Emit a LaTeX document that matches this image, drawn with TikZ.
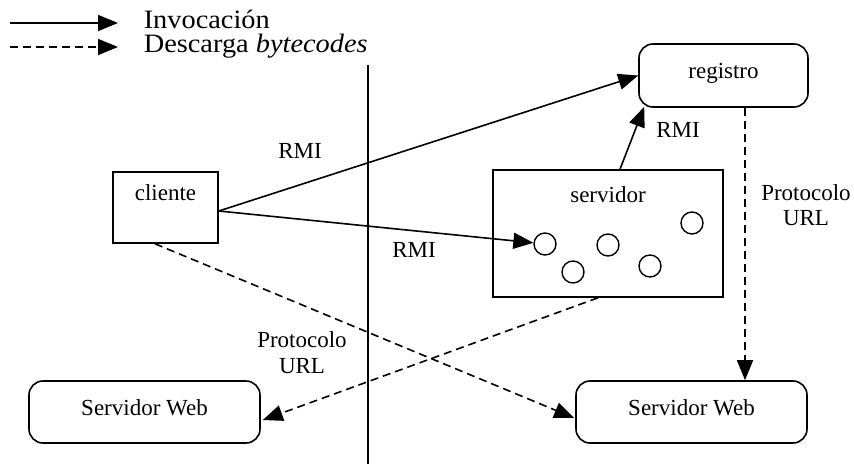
\documentclass[tikz,border=0pt]{standalone}
\usepackage{fontspec}
\setmainfont{Liberation Serif}
\newfontfamily\legendfont[FakeStretch=1.07]{Liberation Serif}
\usetikzlibrary{arrows.meta}
\begin{document}
\begin{tikzpicture}[x=1pt,y=-1pt,
  line width=1.6pt,
  tip/.style={-{Triangle[length=20pt,width=16pt]}},
  sl/.style={tip},
  dl/.style={tip,dash pattern=on 8pt off 5pt},
  txt/.style={font=\fontsize{23}{26}\selectfont,inner sep=0pt,anchor=base},
  ltxt/.style={font=\legendfont\fontsize{26.5}{30}\selectfont,inner sep=0pt,anchor=base west},
  sqbox/.style={draw,line width=1.6pt,inner sep=0pt},
  rbox/.style={draw,line width=1.6pt,inner sep=0pt,rounded corners=14pt},
  obj/.style={draw,circle,line width=1.4pt,minimum size=22pt,inner sep=0pt}]
\useasboundingbox (0,0) rectangle (854,464);

% legend
\coordinate (la1) at (10,23);
\coordinate (lb1) at (118,23);
\coordinate (la2) at (10,47);
\coordinate (lb2) at (118,47);
\draw[sl] (la1) -- (lb1);
\draw[dl] (la2) -- (lb2);
\node[ltxt] (linv) at (143,28) {Invocación};
\node[ltxt] (ldesc) at (143,52) {Descarga \textit{bytecodes}};

% separator line
\coordinate (sepTop) at (368,65);
\coordinate (sepBot) at (368,464);
\draw (sepTop) -- (sepBot);

% boxes
\node[sqbox,minimum width=105pt,minimum height=71pt] (cliente) at (165.5,207.5) {};
\node[txt] (tcliente) at (165.5,200) {cliente};

\node[rbox,minimum width=169pt,minimum height=63pt] (registro) at (723.5,75.5) {};
\node[txt] (tregistro) at (723.5,78) {registro};

\node[sqbox,minimum width=230pt,minimum height=127pt] (servidor) at (608,233.5) {};
\node[txt] (tservidor) at (608,202) {servidor};

\node[rbox,minimum width=231pt,minimum height=62pt] (swl) at (144.5,412) {};
\node[txt] (tswl) at (144.5,415) {Servidor Web};

\node[rbox,minimum width=231pt,minimum height=62pt] (swr) at (691.5,412) {};
\node[txt] (tswr) at (691.5,415) {Servidor Web};

% remote objects inside the server
\node[obj] (o1) at (545,244) {};
\node[obj] (o2) at (608,245) {};
\node[obj] (o3) at (692,223) {};
\node[obj] (o4) at (573,272) {};
\node[obj] (o5) at (650,266) {};

% invocations
\draw[sl] ([yshift=-3.5pt]cliente.east) -- (registro.west);
\draw[sl] ([yshift=-3.5pt]cliente.east) -- (o1);
\draw[sl] ([xshift=12pt]servidor.north) -- ([xshift=6pt,yshift=1pt]registro.south west);

% bytecode downloads
\draw[dl] ([xshift=21.5pt]registro.south) -- ([xshift=21.5pt]registro.south |- swr.north);
\draw[dl] ([xshift=-10pt]servidor.south) -- ([xshift=2pt,yshift=-8pt]swl.east);
\draw[dl] ([xshift=-10.5pt]cliente.south) -- ([xshift=-1pt,yshift=-6pt]swr.west);

% labels
\node[txt] (rmi1) at (300,158) {RMI};
\node[txt] (rmi2) at (414,257) {RMI};
\node[txt] (rmi3) at (678,137) {RMI};
\node[txt] (purl1) at (806,200) {Protocolo};
\node[txt] (purl1b) at (806,225) {URL};
\node[txt] (purl2) at (302,347) {Protocolo};
\node[txt] (purl2b) at (302,373) {URL};
\end{tikzpicture}
\end{document}
